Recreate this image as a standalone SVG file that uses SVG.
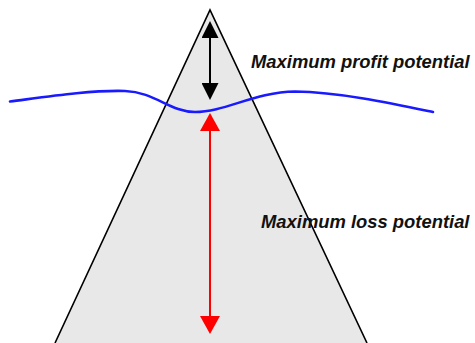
<svg xmlns="http://www.w3.org/2000/svg" width="475" height="343" viewBox="0 0 475 343">
  <style>
    .label { font-family: "Liberation Sans", Arial, sans-serif; font-weight: bold; font-style: italic; font-size: 18.4px; fill: #111; }
    .side { fill: none; stroke: #000; stroke-width: 1.6; stroke-linejoin: miter; }
    .wave { fill: none; stroke: #1a1aff; stroke-width: 2.6; stroke-linecap: round; }
    .blk { stroke: #000; stroke-width: 2; }
    .red { stroke: #ff0000; stroke-width: 2; }
  </style>
  <defs>
    <marker id="headBlack" markerUnits="userSpaceOnUse" markerWidth="17" markerHeight="17" refX="0" refY="8.5" orient="auto-start-reverse">
      <path d="M0,0 L17,8.5 L0,17 z" fill="#000"/>
    </marker>
    <marker id="headRed" markerUnits="userSpaceOnUse" markerWidth="18" markerHeight="20" refX="0" refY="10" orient="auto-start-reverse">
      <path d="M0,0 L18,10 L0,20 z" fill="#ff0000"/>
    </marker>
  </defs>
  <rect width="475" height="343" fill="#fff"/>
  <g id="pyramid">
    <polygon points="55,343 210,10 367,343" fill="#e8e8e8"/>
    <polyline class="side" points="55,343 210,10 367,343"/>
  </g>
  <g id="waterline">
    <path class="wave" d="M10,101.5 C45,97 90,90 125,91 C155,92 170,112 195,112 C225,112 255,92 295,91.5 C340,92 395,104 433,112"/>
  </g>
  <g id="connectors">
    <line class="blk" x1="210" y1="38" x2="210" y2="83" marker-start="url(#headBlack)" marker-end="url(#headBlack)"/>
    <line class="red" x1="210" y1="131" x2="210" y2="316" marker-start="url(#headRed)" marker-end="url(#headRed)"/>
  </g>
  <g id="profit-label">
    <text class="label" x="251" y="68">Maximum profit potential</text>
  </g>
  <g id="loss-label">
    <text class="label" x="261" y="228">Maximum loss potential</text>
  </g>
</svg>
